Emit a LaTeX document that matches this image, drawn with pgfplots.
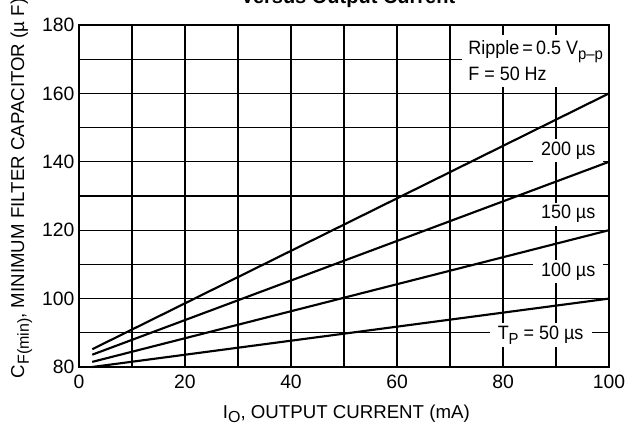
\documentclass[border=0pt]{standalone}
\usepackage{fontspec}
\setmainfont{Liberation Sans}
\newfontfamily\narrow{Liberation Sans}[FakeStretch=0.93]
\usepackage{pgfplots}
\pgfplotsset{compat=1.18}
\newcommand{\sub}[1]{\raisebox{-0.5ex}{\fontsize{12}{12}\selectfont #1}}
\begin{document}
\begin{tikzpicture}
\begin{axis}[
 at={(0,0)}, anchor=south west,
 scale only axis, width=397.5pt, height=256.5pt,
 xmin=0, xmax=100, ymin=80, ymax=180,
 xtick={0,10,...,100}, xticklabels={0,,20,,40,,60,,80,,100},
 ytick={80,90,...,180}, yticklabels={80,,100,,120,,140,,160,,180},
 xmajorgrids, ymajorgrids,
 major grid style={black, line width=0.9pt},
 major tick length=0pt,
 axis line style={line width=1.1pt},
 ticklabel style={font=\fontsize{14.5}{16}\selectfont},
 /pgf/number format/assume math mode=true,
 xticklabel style={yshift=-2.5pt},
 clip=false,
]
\fill[white] (axis cs:72.3,161.9) rectangle (axis cs:99.75,177.1);
\node[anchor=north west, inner sep=0pt, align=left, font=\narrow\fontsize{14.5}{20}\selectfont] at (axis cs:73.4,175.6) {Ripple\,=\,0.5 V\sub{p–p}\\F = 50 Hz};
\addplot[black, line width=1.6pt] coordinates {(2.5,80) (100,100)};
\addplot[black, line width=1.6pt] coordinates {(2.5,81.5) (100,120)};
\addplot[black, line width=1.6pt] coordinates {(2.5,83.6) (100,140)};
\addplot[black, line width=1.6pt] coordinates {(2.5,85.2) (100,160)};
\node[fill=white, inner xsep=6pt, inner ysep=2pt, font=\narrow\fontsize{14.5}{16}\selectfont] at (axis cs:92.3,143.3) {200 µs};
\node[fill=white, inner xsep=6pt, inner ysep=2pt, font=\narrow\fontsize{14.5}{16}\selectfont] at (axis cs:92.3,124.7) {150 µs};
\node[fill=white, inner xsep=6pt, inner ysep=2pt, font=\narrow\fontsize{14.5}{16}\selectfont] at (axis cs:92.3,107.9) {100 µs};
\node[fill=white, inner xsep=6pt, inner ysep=2pt, font=\narrow\fontsize{14.5}{16}\selectfont] at (axis cs:87.1,89.4) {T\sub{P} = 50 µs};
\end{axis}
\node[font=\fontsize{14}{16}\selectfont, anchor=base] at (200.5pt,-38.25pt) {I\sub{O}, OUTPUT CURRENT (mA)};
\node[font=\fontsize{14}{16}\selectfont, anchor=base, rotate=90] at (-41.25pt,133.9pt) {C\sub{F(min)}, MINIMUM FILTER CAPACITOR (µ F)};
\node[font=\bfseries\fontsize{15}{18}\selectfont, anchor=base] at (201.75pt,272.5pt) {Versus Output Current};
\pgfresetboundingbox
\path[use as bounding box] (-59.25pt,-48.75pt) rectangle (411pt,275.25pt);
\end{tikzpicture}
\end{document}
